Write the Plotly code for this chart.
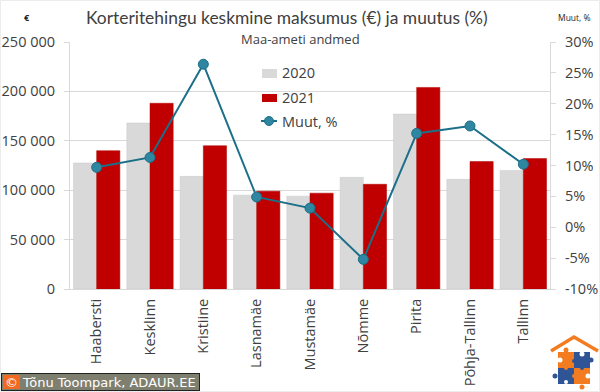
import plotly.graph_objects as go

districts = ["Haabersti", "Kesklinn", "Kristiine", "Lasnamäe", "Mustamäe", "Nõmme", "Pirita", "Põhja-Tallinn", "Tallinn"]
price_2020 = [127500, 168000, 114000, 95000, 94000, 113000, 177000, 111000, 120000]
price_2021 = [140000, 188000, 145000, 99000, 97000, 106000, 204000, 129000, 132000]
change_pct = [9.7, 11.3, 26.4, 4.9, 3.1, -5.2, 15.2, 16.4, 10.2]
left_ticks = [0, 50000, 100000, 150000, 200000, 250000]
left_labels = ["0", "50 000", "100 000", "150 000", "200 000", "250 000"]
right_ticks = [-10, -5, 0, 5, 10, 15, 20, 25, 30]
right_labels = ["-10%", "-5%", "0%", "5%", "10%", "15%", "20%", "25%", "30%"]

W, H = 600, 392
L, R, T, B = 70, 550, 42, 289
FONT = "Open Sans"
TXT = "#404040"
GRID = "#d9d9d9"
LINE = "#1b6f88"
MARK = "#2e86a0"

def px(x): return (x - L) / (R - L)
def py(y): return 1 - (y - T) / (B - T)

fig = go.Figure()
fig.add_bar(x=districts, y=price_2020, name="2020", marker=dict(color="#d9d9d9", line=dict(color="#c8c8c8", width=0.5)))
fig.add_bar(x=districts, y=price_2021, name="2021", marker=dict(color="#c00000", line=dict(color="#b00000", width=0.5)))
fig.add_scatter(x=districts, y=change_pct, name="Muut, %", yaxis="y2", mode="lines+markers",
                line=dict(color=LINE, width=2),
                marker=dict(size=10, color=MARK, line=dict(color=LINE, width=1)))

def r(x0, y0, x1, y1, color, layer="above"):
    return dict(type="rect", xref="paper", yref="paper", layer=layer,
                x0=px(x0), x1=px(x1), y0=py(y1), y1=py(y0), fillcolor=color, line=dict(width=0))

def c(cx, cy, rad, color, line=None):
    return dict(type="circle", xref="paper", yref="paper", layer="above",
                x0=px(cx - rad), x1=px(cx + rad), y0=py(cy + rad), y1=py(cy - rad), fillcolor=color,
                line=dict(width=1, color=line) if line else dict(width=0))

def seg(x0, y0, x1, y1, color, width):
    return dict(type="line", xref="paper", yref="paper", layer="above",
                x0=px(x0), x1=px(x1), y0=py(y0), y1=py(y1), line=dict(color=color, width=width))

ORANGE, BLUE = "#f47c20", "#2f5597"
shapes = [
    r(85, 40, 515, 44, "white", layer="below"),
    # outer frame of the picture
    dict(type="rect", xref="paper", yref="paper", layer="above", x0=px(0.5), x1=px(599.5), y0=py(391.5), y1=py(0.5),
         line=dict(color="#ececec", width=1)),
    # legend keys
    r(262, 69, 277, 78, "#d9d9d9"),
    r(262, 94, 277, 102, "#c00000"),
    seg(261, 121, 277, 121, LINE, 2),
    c(269, 121, 4.5, MARK, LINE),
    # copyright plate
    r(1, 373, 200, 391, "#222222"),
    r(2, 374, 199, 390, "#7f7f6f"),
    r(3, 375, 20, 389, "#f26a21"),
    # logo
    r(558, 352, 574, 368, ORANGE), r(574, 352, 590, 368, BLUE),
    r(558, 368, 574, 384, BLUE), r(574, 368, 590, 384, ORANGE),
    c(566, 350, 2.5, ORANGE), c(591, 360, 2.5, BLUE), c(555, 376, 2.5, BLUE), c(582, 387, 2.5, ORANGE),
    c(560, 360, 2.5, "white"), c(582, 354, 2.5, "white"), c(588, 376, 2.5, "white"), c(566, 382, 2, "white"),
    c(574, 361, 2, BLUE), c(574, 376, 2, ORANGE), c(582, 368, 2, BLUE), c(566, 368, 2, ORANGE),
    dict(type="path", xref="paper", yref="paper", layer="above",
         path=f"M {px(551)},{py(351)} L {px(574)},{py(337)} L {px(598)},{py(351)}",
         line=dict(color=ORANGE, width=3.5)),
]

annotations = [
    dict(text="Korteritehingu keskmine maksumus (€) ja muutus (%)", x=px(287), y=py(18), font=dict(size=17.4, color=TXT, family="Lato")),
    dict(text="Maa-ameti andmed", x=px(300), y=py(39), font=dict(size=13, color=TXT, family=FONT)),
    dict(text="<b>€</b>", x=px(27), y=py(17), font=dict(size=9, color="#222222", family=FONT)),
    dict(text="Muut, %", x=px(574), y=py(17), font=dict(size=8.5, color="#222222", family=FONT)),
    dict(text="©", x=px(11), y=py(382), font=dict(size=13, color="white", family="DejaVu Sans")),
    dict(text="Tõnu Toompark, ADAUR.EE", x=px(109), y=py(382), font=dict(size=13, color="white", family="DejaVu Sans")),
    dict(text="2020", x=px(280), y=py(73), xanchor="left", font=dict(size=14.5, color=TXT, family=FONT)),
    dict(text="2021", x=px(280), y=py(97), xanchor="left", font=dict(size=14.5, color=TXT, family=FONT)),
    dict(text="Muut, %", x=px(280), y=py(121), xanchor="left", font=dict(size=14.5, color=TXT, family=FONT)),
]
for a in annotations:
    a.setdefault("xanchor", "center")
    a.update(xref="paper", yref="paper", showarrow=False, yanchor="middle")

fig.update_layout(
    width=W, height=H, autosize=False, paper_bgcolor="white", plot_bgcolor="white",
    margin=dict(l=L, r=W - R, t=T, b=H - B, pad=0), barmode="group", bargap=0.13, bargroupgap=0,
    font=dict(family=FONT, color=TXT), showlegend=False,
    shapes=shapes, annotations=annotations,
    xaxis=dict(range=[-0.5, 8.5], tickangle=-90, tickfont=dict(size=14.5, color=TXT), showgrid=False, ticks="",
               showline=True, linecolor=GRID, linewidth=1, anchor="y", ticklabelstandoff=3, automargin=False),
    yaxis=dict(range=[0, 250000], tickvals=left_ticks, ticktext=left_labels, gridcolor=GRID, gridwidth=1,
               tickfont=dict(size=14.5, color=TXT), ticks="outside", ticklen=5, tickcolor=GRID,
               showline=True, linecolor=GRID, zeroline=False, automargin=False, ticklabelstandoff=6),
    yaxis2=dict(range=[-10, 30], tickvals=right_ticks, ticktext=right_labels, overlaying="y", side="right",
                showgrid=False, zeroline=False, tickfont=dict(size=14.5, color=TXT), ticks="outside", ticklen=5,
                tickcolor=GRID, showline=True, linecolor=GRID, automargin=False, ticklabelstandoff=6),
)
fig.write_html("out.html", config=dict(displayModeBar=False),
               post_script="document.body.style.margin='0';document.documentElement.style.overflow='hidden';")
